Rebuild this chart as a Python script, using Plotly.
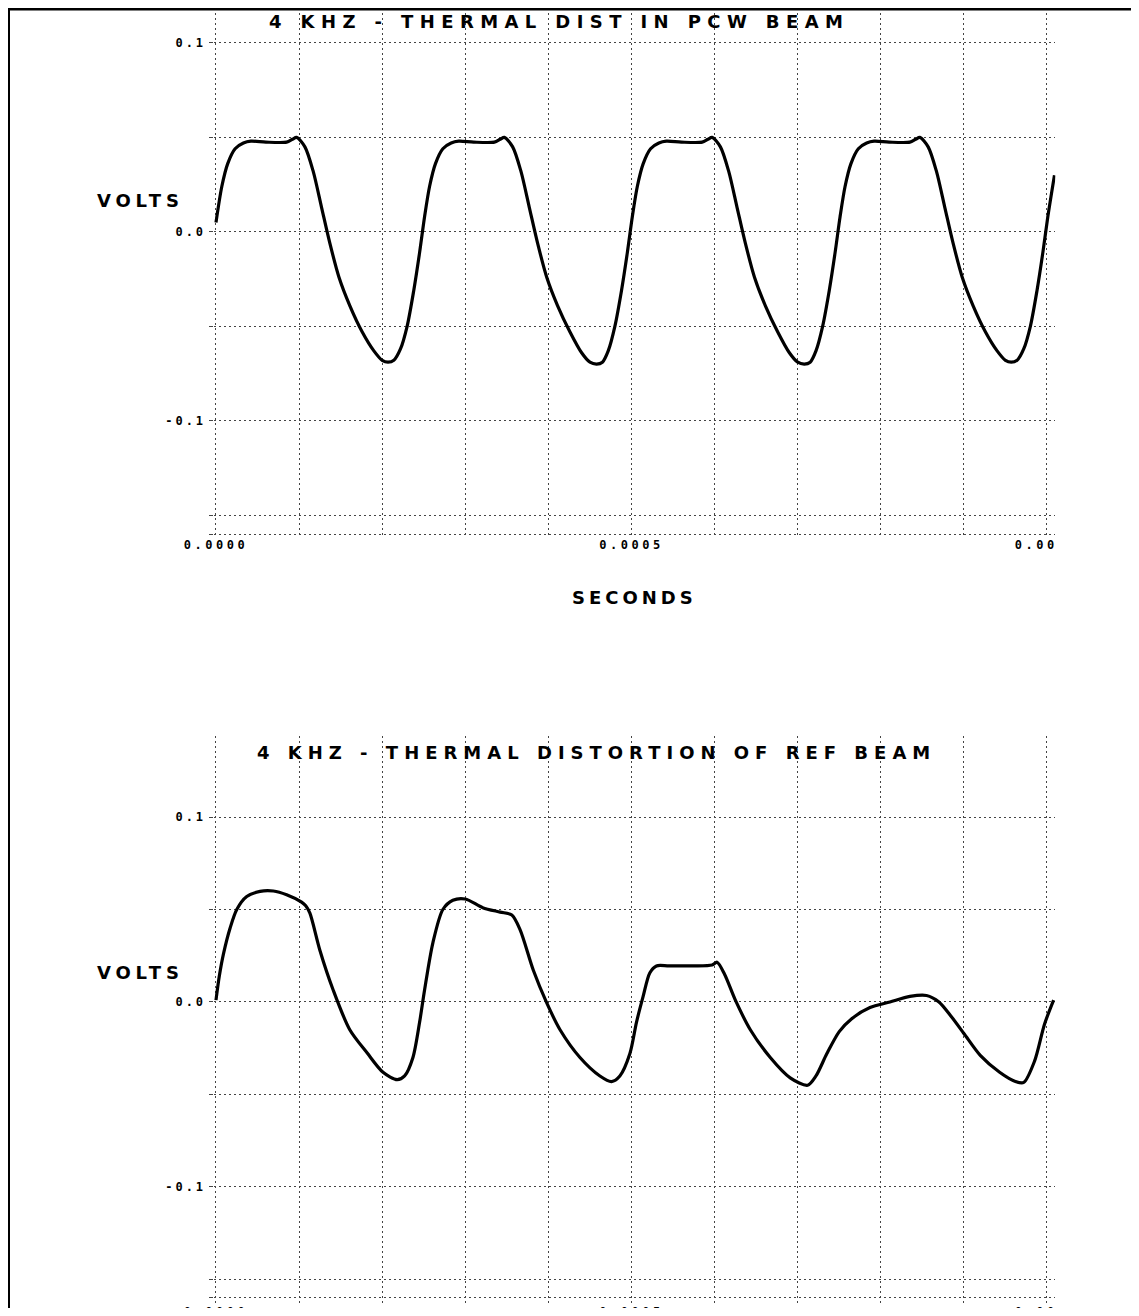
import plotly.graph_objects as go

# ---------------- data (time in microseconds, volts) ----------------
top_t_us = [0, 7, 14, 23, 33, 42, 60, 85, 92, 97, 107, 117, 127, 137, 148, 161, 176, 190, 200, 207, 214, 222, 230, 238, 245,
            251, 257, 264, 273, 283, 292, 310, 335, 342, 347, 357, 367, 377, 387, 398, 411, 426, 440, 450, 458, 465, 472, 480, 488, 495,
            501, 507, 514, 523, 533, 542, 560, 585, 592, 597, 607, 617, 627, 637, 648, 661, 676, 690, 700, 708, 715, 722, 730, 738, 745,
            751, 757, 764, 773, 783, 792, 810, 835, 842, 847, 857, 867, 877, 887, 898, 911, 926, 940, 950, 957, 964, 972, 980, 988, 995,
            1001, 1009]
top_v = [0.005, 0.024, 0.036, 0.044, 0.047, 0.048, 0.0475, 0.0475, 0.049, 0.050, 0.045, 0.032, 0.013, -0.006, -0.024, -0.039, -0.053, -0.063, -0.068, -0.069, -0.068, -0.062, -0.050, -0.031, -0.011,
         0.008, 0.024, 0.036, 0.044, 0.047, 0.048, 0.0475, 0.0475, 0.049, 0.050, 0.045, 0.032, 0.013, -0.006, -0.024, -0.039, -0.053, -0.064, -0.069, -0.070, -0.069, -0.063, -0.050, -0.031, -0.011,
         0.008, 0.024, 0.036, 0.044, 0.047, 0.048, 0.0475, 0.0475, 0.049, 0.050, 0.045, 0.032, 0.013, -0.006, -0.024, -0.039, -0.053, -0.064, -0.069, -0.070, -0.069, -0.063, -0.050, -0.031, -0.011,
         0.008, 0.024, 0.036, 0.044, 0.047, 0.048, 0.0475, 0.0475, 0.049, 0.050, 0.045, 0.032, 0.013, -0.006, -0.024, -0.039, -0.053, -0.063, -0.068, -0.069, -0.068, -0.062, -0.050, -0.031, -0.011,
         0.008, 0.030]

bot_t_us = [0, 4, 9, 17, 25, 37, 53, 69, 85, 103, 108, 113, 125, 141, 161, 182, 201, 218, 227, 237, 245,
            251, 261, 273, 285, 300, 321, 342, 356, 366, 382, 398, 414, 438, 462, 476, 486, 498, 506,
            514, 522, 530, 545, 575, 597, 603, 612, 625, 643, 667, 691, 712, 722, 735, 750, 765, 787,
            811, 835, 855, 870, 885, 900, 920, 943, 962, 972, 985, 997, 1008]
bot_v = [0.001, 0.014, 0.026, 0.040, 0.050, 0.057, 0.0598, 0.060, 0.058, 0.054, 0.052, 0.048, 0.028, 0.0065, -0.015, -0.0276, -0.038, -0.042, -0.040, -0.030, -0.011,
         0.0065, 0.032, 0.050, 0.055, 0.0557, 0.051, 0.0486, 0.047, 0.039, 0.017, -0.0005, -0.015, -0.030, -0.040, -0.043, -0.040, -0.028, -0.011,
         0.003, 0.0157, 0.0195, 0.0195, 0.0195, 0.020, 0.0215, 0.015, 0.001, -0.015, -0.030, -0.041, -0.045, -0.040, -0.028, -0.016, -0.009, -0.003,
         0.000, 0.003, 0.0035, 0.000, -0.008, -0.017, -0.029, -0.038, -0.043, -0.0435, -0.032, -0.012, 0.001]

x_grid = [0.0, 0.0001, 0.0002, 0.0003, 0.0004, 0.0005, 0.0006, 0.0007, 0.0008, 0.0009, 0.001]
x_labels = ["0.0000", "", "", "", "", "0.0005", "", "", "", "", "0.00\u00a0\u00a0"]
y_grid = [-0.16, -0.15, -0.1, -0.05, 0.0, 0.05, 0.1]
y_labels = ["", "", "-0.1", "", "0.0", "", "0.1"]

title_top = "4 KHZ - THERMAL DIST IN PCW BEAM"
title_bot = "4 KHZ - THERMAL DISTORTION OF REF BEAM"
y_title = "VOLTS"
x_title = "SECONDS"

# ---------------- layout helpers ----------------
# figure is 1123x1300 so that, with the page's 8px body margin, it fills the 1139x1316 window
W, H = 1123, 1300


def ls(text, px):
    return '<span style="letter-spacing:%spx">%s</span>' % (px, text)


def px_x(p):
    return p / W


def px_y(p):
    return 1 - p / H


TEXT_FONT = dict(family="DejaVu Sans", size=18, color="black", weight="bold")
TICK_FONT = dict(family="DejaVu Sans Mono", size=12, color="black", weight="bold")

GRID = dict(showgrid=True, gridcolor="#444", gridwidth=1, griddash="2px,3px",
            zeroline=False, showline=False)

x_dom = [px_x(205.5), px_x(1047.3)]
x_rng = [-0.000003, 0.00101]

fig = go.Figure()
fig.add_trace(go.Scatter(x=[t * 1e-6 for t in top_t_us], y=top_v, xaxis="x", yaxis="y",
                         mode="lines", line=dict(color="black", width=3.2, shape="spline", smoothing=0.8),
                         showlegend=False, hoverinfo="skip"))
fig.add_trace(go.Scatter(x=[t * 1e-6 for t in bot_t_us], y=bot_v, xaxis="x2", yaxis="y2",
                         mode="lines", line=dict(color="black", width=3.2, shape="spline", smoothing=0.8),
                         showlegend=False, hoverinfo="skip"))

xt = [ls(s, 3.5) if s else "" for s in x_labels]
yt = [ls(s, 3) if s else "" for s in y_labels]

fig.update_layout(
    width=W, height=H, autosize=False,
    margin=dict(l=0, r=0, t=0, b=0, pad=0),
    paper_bgcolor="white", plot_bgcolor="white",
    showlegend=False,
    xaxis=dict(domain=x_dom, range=x_rng, anchor="y", tickmode="array", tickvals=x_grid, ticktext=xt,
               tickfont=TICK_FONT, ticks="", automargin=False,
               title=dict(text=ls(x_title, 4), font=TEXT_FONT, standoff=40), **GRID),
    yaxis=dict(domain=[px_y(528), 1], range=[-0.161, 0.1185], anchor="x", tickmode="array",
               tickvals=y_grid, ticktext=yt, tickfont=TICK_FONT, ticks="outside", ticklen=4,
               tickcolor="#444", automargin=False, **GRID),
    xaxis2=dict(domain=x_dom, range=x_rng, anchor="y2", tickmode="array", tickvals=x_grid, ticktext=xt,
                tickfont=TICK_FONT, ticks="", automargin=False, **GRID),
    yaxis2=dict(domain=[px_y(1294.6), px_y(727.6)], range=[-0.1625, 0.144], anchor="x2", tickmode="array",
                tickvals=y_grid, ticktext=yt, tickfont=TICK_FONT, ticks="outside", ticklen=4,
                tickcolor="#444", automargin=False, **GRID),
    annotations=[
        dict(text=ls(title_top, 6.4), xref="paper", yref="paper", x=px_x(551), y=px_y(13),
             showarrow=False, font=TEXT_FONT, xanchor="center", yanchor="middle"),
        dict(text=ls(title_bot, 6), xref="paper", yref="paper", x=px_x(588), y=px_y(744),
             showarrow=False, font=TEXT_FONT, xanchor="center", yanchor="middle"),
        dict(text=ls(y_title, 4.8), xref="paper", yref="paper", x=px_x(132), y=px_y(193),
             showarrow=False, font=TEXT_FONT, xanchor="center", yanchor="middle"),
        dict(text=ls(y_title, 4.8), xref="paper", yref="paper", x=px_x(132), y=px_y(964),
             showarrow=False, font=TEXT_FONT, xanchor="center", yanchor="middle"),
    ],
    shapes=[
        dict(type="line", xref="paper", yref="paper", x0=0, x1=1, y0=px_y(1), y1=px_y(1),
             line=dict(color="black", width=3)),
        dict(type="line", xref="paper", yref="paper", x0=px_x(1), x1=px_x(1), y0=0, y1=1,
             line=dict(color="black", width=2)),
    ],
)

fig.write_html("out.html")
